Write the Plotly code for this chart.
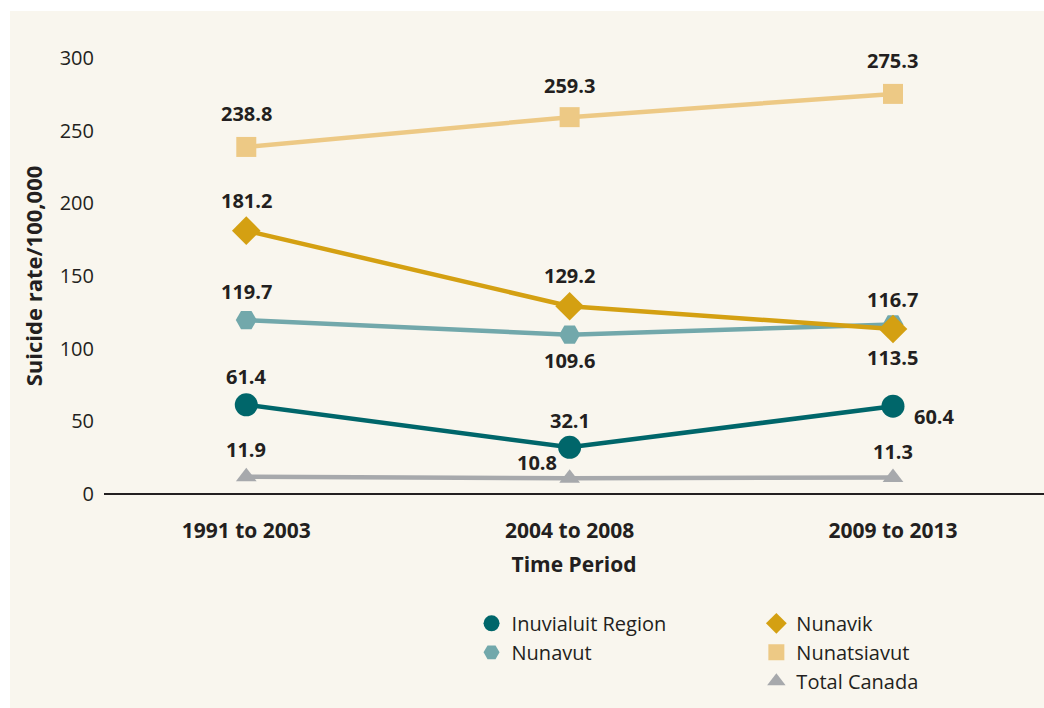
import plotly.graph_objects as go

periods = ["1991 to 2003", "2004 to 2008", "2009 to 2013"]

inuvialuit = [61.4, 32.1, 60.4]
nunavut = [119.7, 109.6, 116.7]
nunavik = [181.2, 129.2, 113.5]
nunatsiavut = [238.8, 259.3, 275.3]
total_canada = [11.9, 10.8, 11.3]

BG = "#F9F6EE"
TEXT = "#231F20"
FONT = "Open Sans, Noto Sans, sans-serif"

fig = go.Figure()
annotations = []


def add_series(name, values, color, symbol, size, shifts, legend, legend_size):
    # line + markers, no legend entry
    fig.add_trace(go.Scatter(
        x=periods,
        y=values,
        name=name,
        mode="lines+markers",
        line=dict(color=color, width=4.5),
        marker=dict(color=color, symbol=symbol, size=size, line=dict(width=0)),
        cliponaxis=False,
        showlegend=False,
    ))
    # marker-only legend entry
    fig.add_trace(go.Scatter(
        x=[None],
        y=[None],
        name=name,
        mode="markers",
        marker=dict(color=color, symbol=symbol, size=legend_size, line=dict(width=0)),
        legend=legend,
    ))
    for p, v, (dx, dy) in zip(periods, values, shifts):
        annotations.append(dict(
            x=p, y=v, text=f"{v:.1f}", showarrow=False,
            xshift=dx, yshift=dy,
            font=dict(size=20, color=TEXT, family=FONT, weight="bold"),
        ))


add_series("Inuvialuit Region", inuvialuit, "#00666A", "circle", 23,
           [(0, 28), (0, 27), (42, -10)], "legend", 18)
add_series("Nunavut", nunavut, "#72A8AB", "hexagon2", 21,
           [(0, 29), (0, -26), (0, 25)], "legend", 18)
add_series("Nunavik", nunavik, "#D4A012", "diamond", 22,
           [(0, 30), (0, 31), (0, -28)], "legend2", 20)
add_series("Nunatsiavut", nunatsiavut, "#EDC985", "square", 20,
           [(0, 33), (0, 32), (0, 33)], "legend2", 17)
add_series("Total Canada", total_canada, "#A7A9AC", "triangle-up", 18,
           [(0, 27), (-33, 16), (0, 26)], "legend2", 17)

fig.update_layout(
    width=1044,
    height=708,
    paper_bgcolor="white",
    plot_bgcolor=BG,
    font=dict(family=FONT, color=TEXT, size=20),
    margin=dict(l=104, r=0, t=58, b=214),
    showlegend=True,
    annotations=annotations,
    xaxis=dict(
        type="category",
        range=[-0.44, 2.467],
        showgrid=False,
        zeroline=False,
        showline=False,
        ticks="",
        ticklabelstandoff=22,
        tickfont=dict(size=21, weight="bold", color=TEXT),
        title=dict(text="Time Period", font=dict(size=21, weight="bold", color=TEXT), standoff=14),
    ),
    yaxis=dict(
        range=[0, 300],
        dtick=50,
        showgrid=False,
        zeroline=True,
        zerolinecolor=TEXT,
        zerolinewidth=1.5,
        showline=False,
        ticks="",
        ticklabelstandoff=9,
        tickfont=dict(size=20, color=TEXT),
        title=dict(text="Suicide rate/100,000", font=dict(size=22, weight="bold", color=TEXT), standoff=10),
    ),
    legend=dict(
        x=0.391, y=-0.252, xanchor="left", yanchor="top",
        bgcolor="rgba(0,0,0,0)",
        font=dict(size=20, color=TEXT),
        traceorder="normal",
        itemsizing="trace",
        tracegroupgap=0,
    ),
    legend2=dict(
        x=0.694, y=-0.252, xanchor="left", yanchor="top",
        bgcolor="rgba(0,0,0,0)",
        font=dict(size=20, color=TEXT),
        traceorder="normal",
        itemsizing="trace",
        tracegroupgap=0,
    ),
    shapes=[dict(
        type="rect", xref="paper", yref="paper",
        x0=-0.1, x1=1.0, y0=-0.5, y1=1.108,
        fillcolor=BG, line=dict(width=0), layer="below",
    )],
)

fig.write_html(
    "out.html",
    config={"displayModeBar": False},
    post_script="document.body.style.margin='0';",
)
